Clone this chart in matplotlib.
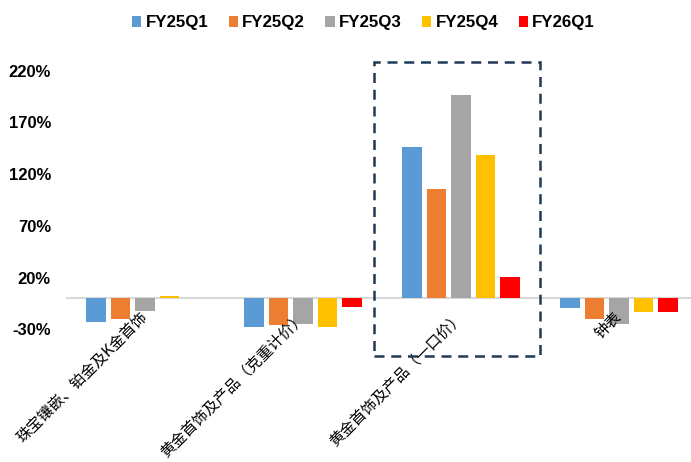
import matplotlib
matplotlib.use("Agg")
import matplotlib.pyplot as plt
from matplotlib.patches import Rectangle, Patch
import matplotlib.transforms as mtransforms
import numpy as np

categories = ["珠宝镶嵌、铂金及K金首饰", "黄金首饰及产品（克重计价）", "黄金首饰及产品（一口价）", "钟表"]
series_names = ["FY25Q1", "FY25Q2", "FY25Q3", "FY25Q4", "FY26Q1"]
fy25q1 = [-23.2, -27.4, 146.4, -9.7]
fy25q2 = [-20.3, -26.1, 106.1, -20.0]
fy25q3 = [-12.2, -24.8, 196.3, -24.8]
fy25q4 = [2.5, -28.0, 138.7, -13.5]
fy26q1 = [0.0, -8.4, 20.3, -13.5]
yticks = [-30, 20, 70, 120, 170, 220]
colors = ["#5B9BD5", "#ED7D31", "#A5A5A5", "#FFC000", "#FF0000"]

series = [fy25q1, fy25q2, fy25q3, fy25q4, fy26q1]

W, H = 691, 462
fig = plt.figure(figsize=(W / 100, H / 100), dpi=100)
ax_left, ax_right = 66, 698
ax_top, ax_bottom = 70.7, 329.3
ax = fig.add_axes([ax_left / W, 1 - ax_bottom / H, (ax_right - ax_left) / W, (ax_bottom - ax_top) / H])

x = np.arange(len(categories))
step = 0.155
bw = 0.125
for i, (vals, c) in enumerate(zip(series, colors)):
    ax.bar(x + (i - 2) * step, vals, width=bw, color=c, edgecolor="none",
           label=series_names[i], zorder=3)

ax.set_xlim(-0.5, 3.5)
ax.set_ylim(-30, 220)
ax.axhline(0, color="#D9D9D9", linewidth=1.5, zorder=2)
for s in ax.spines.values():
    s.set_visible(False)
ax.set_xticks([])
ax.set_yticks(yticks)
ax.set_yticklabels([f"{t}%" for t in yticks], fontfamily="Liberation Sans", fontweight="bold", fontsize=12)
ax.tick_params(axis="y", length=0, pad=10.8)

# category labels
for xi, lab in zip(x, categories):
    trans = ax.transData + mtransforms.ScaledTranslation(0 / 100, -16 / 100, fig.dpi_scale_trans)
    ax.text(xi, 0, lab, rotation=45, rotation_mode="anchor", ha="right", va="center",
            fontsize=11, fontfamily=["Noto Sans CJK SC", "DejaVu Sans"], color="black",
            transform=trans, clip_on=False)

# dashed highlight box (figure pixel coords)
bx0, bx1, by0, by1 = 374, 540, 62, 356
rect = Rectangle((bx0 / W, 1 - by1 / H), (bx1 - bx0) / W, (by1 - by0) / H,
                 transform=fig.transFigure, fill=False, edgecolor="#203A56",
                 linewidth=1.8, linestyle=(0, (4, 2.7)), clip_on=False, zorder=5)
fig.patches.append(rect)

handles = [Patch(facecolor=c, edgecolor="none") for c in colors]
fig.legend(handles, series_names, loc="center", bbox_to_anchor=(0.526, 1 - 23 / H),
           ncol=5, frameon=False, handlelength=0.55, handleheight=0.55,
           handletextpad=0.25, columnspacing=1.2,
           prop={"family": "Liberation Sans", "weight": "bold", "size": 12.2})

fig.savefig("out.png", dpi=100)
